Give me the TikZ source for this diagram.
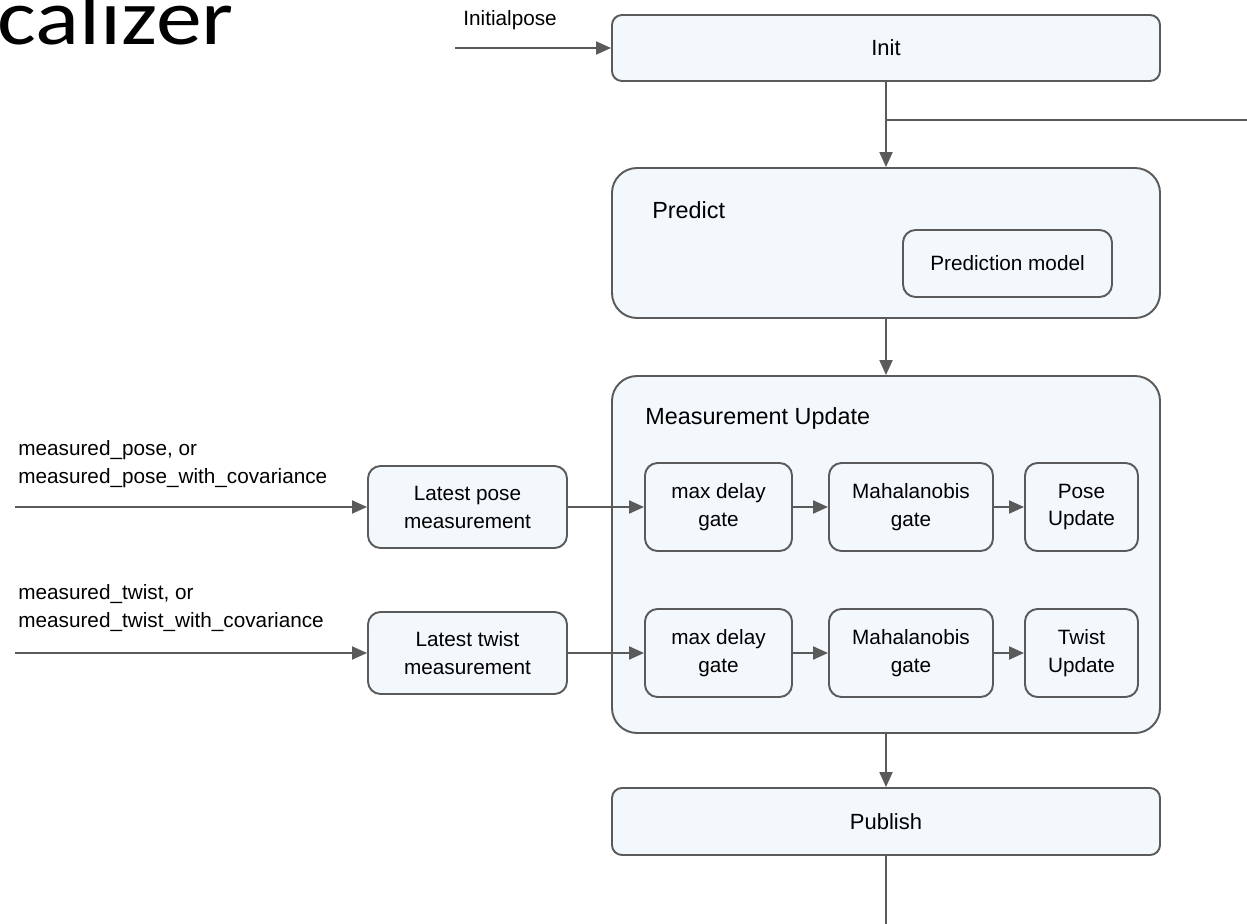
\documentclass[tikz,border=0pt]{standalone}
\usepackage{fontspec}
\setmainfont{Liberation Sans}
\newfontfamily\titlefont{Carlito}
\usetikzlibrary{arrows.meta}

\tikzset{
    block/.style={draw=Lcolor, line width=1.1pt, fill=Bcolor, shape=rectangle, rounded corners=0.25cm, align=center, font=\fontsize{11.8}{15.9}\selectfont},
    frame/.style={block, rounded corners=0.5cm},
    wire/.style={draw=Lcolor, line width=1.1pt},
    arr/.style={wire, -{Triangle[length=0.3cm, width=0.26cm]}},
    inlabel/.style={anchor=west, align=left, inner sep=0pt, font=\fontsize{11.8}{15.9}\selectfont}
}

\begin{document}
\begin{tikzpicture}
    \definecolor{Bcolor}{RGB}{243, 248, 253}
    \definecolor{Lcolor}{RGB}{90, 90, 90}
    \def\xmain{17.72}
    \def\mainwidth{10.96cm}
    \def\rowA{-10.14}
    \def\rowB{-13.06}
    \def\gateheight{1.76cm}
    \useasboundingbox (0,0) rectangle (24.94,-18.48);
    \node[anchor=base west, inner sep=0pt] (title) at (-0.05,-0.9) {\scalebox{1.16}[1]{\titlefont\fontsize{45}{50}\selectfont calizer}};
    \node[block, rounded corners=0.2cm, minimum width=\mainwidth, minimum height=1.32cm, font=\fontsize{12.5}{15}\selectfont] (init) at (\xmain,-0.96) {Init};
    \node[inlabel] (initlabel) at (9.26,-0.4) {Initialpose};
    \coordinate (initsrc) at (9.1,-0.96);
    \node[frame, minimum width=\mainwidth, minimum height=3.0cm] (predict) at (\xmain,-4.86) {};
    \node[anchor=west, inner sep=0pt, font=\fontsize{13.3}{16}\selectfont] (predictlabel) at (13.04,-4.2) {Predict};
    \node[block, minimum width=4.18cm, minimum height=1.34cm] (model) at (20.15,-5.27) {Prediction model};
    \node[frame, minimum width=\mainwidth, minimum height=7.14cm] (update) at (\xmain,-11.09) {};
    \node[anchor=west, inner sep=0pt, font=\fontsize{13.3}{16}\selectfont] (updatelabel) at (12.9,-8.36) {Measurement Update};
    \node[block, minimum width=3.98cm, minimum height=1.64cm] (latestpose) at (9.35,\rowA) {Latest pose\\measurement};
    \node[block, minimum width=3.98cm, minimum height=1.64cm] (latesttwist) at (9.35,\rowB) {Latest twist\\measurement};
    \node[block, minimum width=2.94cm, minimum height=\gateheight] (delayA) at (14.37,\rowA) {max delay\\gate};
    \node[block, minimum width=3.28cm, minimum height=\gateheight] (mahaA) at (18.22,\rowA) {Mahalanobis\\gate};
    \node[block, minimum width=2.26cm, minimum height=\gateheight] (poseupd) at (21.63,\rowA) {Pose\\Update};
    \node[block, minimum width=2.94cm, minimum height=\gateheight] (delayB) at (14.37,\rowB) {max delay\\gate};
    \node[block, minimum width=3.28cm, minimum height=\gateheight] (mahaB) at (18.22,\rowB) {Mahalanobis\\gate};
    \node[block, minimum width=2.26cm, minimum height=\gateheight] (twistupd) at (21.63,\rowB) {Twist\\Update};
    \node[block, rounded corners=0.2cm, minimum width=\mainwidth, minimum height=1.34cm, font=\fontsize{12.5}{15}\selectfont] (publish) at (\xmain,-16.43) {Publish};
    \node[inlabel] (poselabel) at (0.36,-9.28) {measured\_pose, or\\measured\_pose\_with\_covariance};
    \node[inlabel] (twistlabel) at (0.36,-12.16) {measured\_twist, or\\measured\_twist\_with\_covariance};
    \coordinate (posesrc) at (0.3,\rowA);
    \coordinate (twistsrc) at (0.3,\rowB);
    \coordinate (split) at (\xmain,-2.4);
    \coordinate (splitout) at (24.94,-2.4);
    \coordinate (pubout) at (\xmain,-18.48);
    \draw[arr] (initsrc) -- (init.west);
    \draw[arr] (init) -- (predict);
    \draw[wire] (split) -- (splitout);
    \draw[arr] (predict) -- (update);
    \draw[arr] (update) -- (publish);
    \draw[wire] (publish) -- (pubout);
    \draw[arr] (posesrc) -- (latestpose);
    \draw[arr] (twistsrc) -- (latesttwist);
    \draw[arr] (latestpose) -- (delayA);
    \draw[arr] (delayA) -- (mahaA);
    \draw[arr] (mahaA) -- (poseupd);
    \draw[arr] (latesttwist) -- (delayB);
    \draw[arr] (delayB) -- (mahaB);
    \draw[arr] (mahaB) -- (twistupd);
\end{tikzpicture}
\end{document}
